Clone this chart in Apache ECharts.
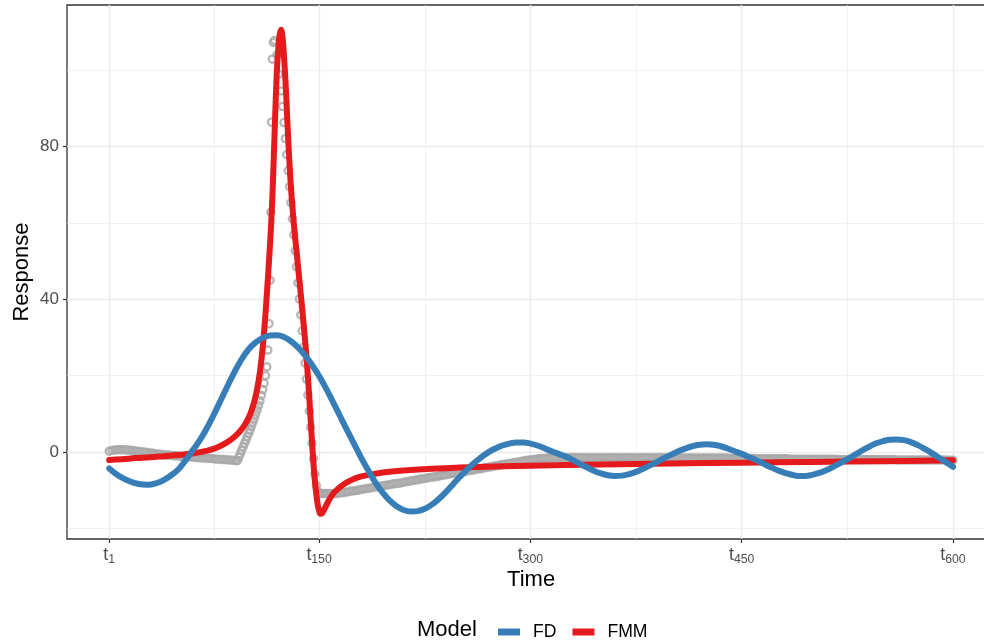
<!DOCTYPE html>
<html><head><meta charset="utf-8">
<script src="https://cdn.jsdelivr.net/npm/echarts@6/dist/echarts.min.js"></script>
<style>html,body{margin:0;padding:0;background:#fff}#c{width:984px;height:644px}</style>
</head><body><div id="c"></div>
<script>
// ---------- axis breaks ----------
const xTicks = [1, 150, 300, 450, 600];
const xMinor = [75.5, 225, 375, 525];
const yTicks = [0, 40, 80];
const yMinor = [-20, 20, 60, 100];

// ---------- observed signal (grey open circles) ----------
// t = 1, 3, 5, ..., 91
const obsEarly = [0.2,0.4,0.5,0.6,0.6,0.6,0.5,0.5,0.4,0.3,
  0.2,0.1,0.0,-0.1,-0.2,-0.3,-0.4,-0.5,-0.6,-0.7,
  -0.8,-0.8,-0.9,-1.0,-1.0,-1.1,-1.2,-1.2,-1.3,-1.3,
  -1.4,-1.5,-1.5,-1.6,-1.6,-1.7,-1.7,-1.8,-1.9,-1.9,
  -2.0,-2.0,-2.1,-2.1,-2.2,-2.3];
// spike region
const spikeTime = [92,93,94,95,96,97,98,99,100,101,102,103,104,105,106,107,108,109,110,111,112,
  112.9,113.6,114.5,115.2,115.7,116.2,116.8,117.5,118.4,120,121.5,
  123,124,125,126,127,128,129,130,131,132,133,134,135,136,137,138,139,140,141,142,
  143,144,145,146,147,148,149,150,151,152];
const spikeValue = [-2.3,-1.4,-0.5,0.4,1.3,2.2,3.1,4.0,4.9,5.8,6.8,7.8,8.8,9.9,11.0,12.2,13.4,14.8,16.3,18.0,20.0,
  22.3,26.7,33.6,45.0,62.8,86.4,102.9,107.3,107.8,104,99,
  94.6,90.5,86.3,82.1,77.9,73.7,69.5,65.3,61.1,56.9,52.7,48.5,44.3,40.1,35.9,31.7,27.5,23.3,19.1,14.9,
  10.7,6.5,2.3,-1.8,-5.8,-8.8,-10.3,-10.8,-10.9,-10.9];
// t = 154, 156, ..., 600
const obsLate = [
  -10.9,-10.9,-10.9,-10.9,-10.9,-10.8,-10.7,-10.6,-10.5,-10.3,
  -10.2,-10.1,-10.0,-9.8,-9.7,-9.6,-9.5,-9.3,-9.2,-9.1,
  -8.9,-8.8,-8.7,-8.6,-8.4,-8.3,-8.2,-8.1,-7.9,-7.8,
  -7.7,-7.5,-7.4,-7.3,-7.1,-7.0,-6.9,-6.7,-6.6,-6.5,
  -6.4,-6.2,-6.1,-6.0,-5.8,-5.7,-5.6,-5.4,-5.3,-5.2,
  -5.1,-4.9,-4.8,-4.7,-4.5,-4.4,-4.3,-4.1,-4.0,-3.9,
  -3.7,-3.6,-3.5,-3.3,-3.2,-3.1,-3.0,-2.8,-2.7,-2.6,
  -2.4,-2.3,-2.2,-2.1,-2.0,-1.9,-1.8,-1.7,-1.7,-1.6,
  -1.6,-1.6,-1.5,-1.5,-1.5,-1.5,-1.5,-1.5,-1.5,-1.5,
  -1.5,-1.5,-1.5,-1.5,-1.5,-1.5,-1.5,-1.5,-1.5,-1.5,
  -1.5,-1.5,-1.5,-1.5,-1.5,-1.5,-1.5,-1.5,-1.5,-1.5,
  -1.5,-1.5,-1.5,-1.5,-1.5,-1.5,-1.5,-1.5,-1.5,-1.5,
  -1.5,-1.5,-1.5,-1.5,-1.5,-1.5,-1.6,-1.6,-1.6,-1.6,
  -1.6,-1.6,-1.6,-1.6,-1.6,-1.6,-1.6,-1.6,-1.6,-1.6,
  -1.6,-1.6,-1.6,-1.6,-1.7,-1.7,-1.7,-1.7,-1.7,-1.7,
  -1.7,-1.7,-1.7,-1.7,-1.8,-1.8,-1.8,-1.8,-1.8,-1.8,
  -1.8,-1.8,-1.8,-1.8,-1.8,-1.9,-1.9,-1.9,-1.9,-1.9,
  -1.9,-1.9,-1.9,-1.9,-1.9,-1.9,-1.9,-1.9,-1.9,-1.9,
  -1.9,-1.9,-2.0,-2.0,-2.0,-2.0,-2.0,-2.0,-2.0,-2.0,
  -2.0,-2.0,-2.0,-2.0,-2.0,-2.0,-2.0,-2.0,-2.0,-2.0,
  -2.0,-2.0,-2.0,-2.1,-2.1,-2.1,-2.1,-2.1,-2.1,-2.1,
  -2.1,-2.1,-2.1,-2.1,-2.1,-2.1,-2.1,-2.1,-2.1,-2.1,
  -2.1,-2.2,-2.2,-2.2];

// ---------- FMM model (red) ----------
const fmmTime = [1,10,20,30,40,50,60,70,75,80,85,90,94,97,100,102,104,106,108,110,112,114,115,116,117,118,119,120,
  121,122,123,124,125,126,127,128,129,130,132,134,136,138,140,141,142,143,144,145,146,147,148,149,150,151,152,153,154,
  156,158,160,163,166,170,175,180,190,200,215,230,250,275,300,350,400,450,500,550,600];
const fmmValue = [-2.1,-1.9,-1.6,-1.4,-1.1,-0.8,-0.4,0.3,0.8,1.6,2.6,4.0,5.5,7.0,9.0,10.8,13.2,16.5,21,27.5,36.5,47.5,53.5,60,68.5,79,90,99.5,
  105.5,109.3,110.6,108.8,104,98,90.5,82.5,75.5,69.5,60,52.5,45,37.5,29.5,25,20,14.5,8.5,2.5,-3,-7.5,-11,-13.8,-15.4,-16.2,-16.1,-15.5,-14.8,
  -13.3,-12,-10.9,-9.8,-8.9,-7.9,-7.0,-6.4,-5.7,-5.2,-4.7,-4.4,-4.1,-3.8,-3.6,-3.3,-3.0,-2.8,-2.6,-2.4,-2.2];

// ---------- FD model (blue) ----------
const fdTime = [1,8,15,22,28,35,40,45,50,55,60,65,70,75,80,85,90,95,100,105,110,115,120,125,130,135,140,145,150,155,
  160,165,170,175,180,185,190,195,200,205,210,215,220,225,230,235,240,245,250,255,260,265,270,275,280,285,290,295,300,
  305,310,315,320,325,330,335,340,345,350,355,360,365,370,375,380,385,390,395,400,405,410,415,420,425,430,435,440,445,
  450,455,460,465,470,475,480,485,490,495,500,505,510,515,520,525,530,535,540,545,550,555,560,565,570,575,580,585,590,595,600];
const fdValue = [-4.3,-6.3,-7.6,-8.4,-8.6,-8.1,-7.3,-6.1,-4.6,-2.3,0.3,2.9,6.0,9.6,13.4,17.3,21.0,24.3,26.9,28.7,29.9,30.5,30.6,30.1,29.0,27.4,25.3,22.8,19.9,16.6,
  13.0,9.3,5.6,2.0,-1.6,-4.9,-8.0,-10.6,-12.7,-14.2,-15.2,-15.6,-15.5,-14.9,-13.8,-12.3,-10.5,-8.5,-6.5,-4.6,-2.9,-1.4,-0.1,0.9,1.7,2.2,2.5,2.5,2.2,
  1.7,1.0,0.2,-0.5,-1.2,-2.1,-3.1,-4.0,-4.9,-5.6,-6.1,-6.3,-6.2,-5.8,-5.2,-4.4,-3.5,-2.6,-1.6,-0.7,0.2,0.9,1.5,1.9,2.0,1.9,1.5,0.9,0.2,
  -0.5,-1.3,-2.1,-3.0,-3.9,-4.7,-5.4,-5.9,-6.3,-6.3,-6.0,-5.5,-4.8,-3.9,-2.9,-1.9,-0.8,0.3,1.3,2.2,2.8,3.2,3.3,3.1,2.6,1.8,0.8,-0.3,-1.5,-2.7,-3.9];

// ---------- build ----------
const FONT = '"Liberation Sans", Arial, Helvetica, sans-serif';
const obs = [];
obsEarly.forEach((v, i) => obs.push([1 + 2 * i, v]));
spikeTime.forEach((t, i) => obs.push([t, spikeValue[i]]));
obsLate.forEach((v, i) => obs.push([154 + 2 * i, v]));
const fd = fdTime.map((t, i) => [t, fdValue[i]]);
const fmm = fmmTime.map((t, i) => [t, fmmValue[i]]);

const minorStyle = {color: '#EBEBEB', width: 0.7, type: 'solid'};
const majorStyle = {color: '#EBEBEB', width: 1.3, type: 'solid'};
const gridMarks = [].concat(
  xMinor.map(v => ({xAxis: v, lineStyle: minorStyle})),
  yMinor.map(v => ({yAxis: v, lineStyle: minorStyle})),
  xTicks.map(v => ({xAxis: v, lineStyle: majorStyle})),
  yTicks.map(v => ({yAxis: v, lineStyle: majorStyle}))
);

const chart = echarts.init(document.getElementById('c'), null, {renderer: 'canvas'});
chart.setOption({
  animation: false,
  backgroundColor: '#ffffff',
  textStyle: {fontFamily: FONT},
  title: {text: 'Model', left: 417, top: 619, padding: 0,
    textStyle: {fontSize: 22, fontWeight: 'normal', color: '#000', fontFamily: FONT}},
  legend: {data: ['FD', 'FMM'], left: 493, top: 618, icon: 'rect', itemWidth: 22, itemHeight: 7, itemGap: 16,
    selectedMode: false,
    textStyle: {fontSize: 17.6, color: '#000', fontFamily: FONT, padding: [0, 0, 0, 8]}},
  grid: {left: 67, right: -11.2, top: 5, bottom: 105, outerBoundsMode: 'none',
    show: true, borderColor: '#333333', borderWidth: 1.3, backgroundColor: '#ffffff'},
  xAxis: {
    type: 'value', min: -28.96, max: 629.95, position: 'bottom',
    name: 'Time', nameLocation: 'middle', nameGap: 30, nameMoveOverlap: false,
    nameTextStyle: {fontSize: 22, color: '#000', fontFamily: FONT},
    axisLine: {show: false, onZero: false}, splitLine: {show: false},
    axisTick: {show: true, customValues: xTicks, length: 4, lineStyle: {color: '#333333', width: 1.2}},
    axisLabel: {customValues: xTicks, margin: 6,
      formatter: v => '{t|t}{s|' + v + '}',
      rich: {
        t: {fontSize: 17.6, color: '#4D4D4D', fontFamily: FONT},
        s: {fontSize: 12.3, color: '#4D4D4D', fontFamily: FONT, padding: [9, 0, 0, 0]}
      }}
  },
  yAxis: {
    type: 'value', min: -22.8, max: 117.1, position: 'left',
    name: 'Response', nameLocation: 'middle', nameGap: 34, nameRotate: 90, nameMoveOverlap: false,
    nameTextStyle: {fontSize: 22, color: '#000', fontFamily: FONT},
    axisLine: {show: false, onZero: false}, splitLine: {show: false},
    axisTick: {show: true, customValues: yTicks, length: 4, lineStyle: {color: '#333333', width: 1.2}},
    axisLabel: {customValues: yTicks, margin: 8, fontSize: 17, color: '#4D4D4D', fontFamily: FONT}
  },
  series: [
    {name: 'grid', type: 'line', data: [], z: 0, silent: true,
      markLine: {z: 0, silent: true, symbol: ['none', 'none'], label: {show: false}, animation: false, data: gridMarks}},
    {name: 'Observed', type: 'scatter', data: obs, z: 2, silent: true,
      symbol: 'circle', symbolSize: 7.2,
      itemStyle: {color: 'rgba(255,255,255,0)', borderColor: '#A6A6A6', borderWidth: 2.3}},
    {name: 'FMM', type: 'line', data: fmm, z: 3, smooth: 0.4, showSymbol: false, silent: true,
      color: '#E41A1C', lineStyle: {color: '#E41A1C', width: 6, cap: 'round', join: 'round'}},
    {name: 'FD', type: 'line', data: fd, z: 4, smooth: 0.4, showSymbol: false, silent: true,
      color: '#377EB8', lineStyle: {color: '#377EB8', width: 6, cap: 'round', join: 'round'}}
  ]
});
</script></body></html>
